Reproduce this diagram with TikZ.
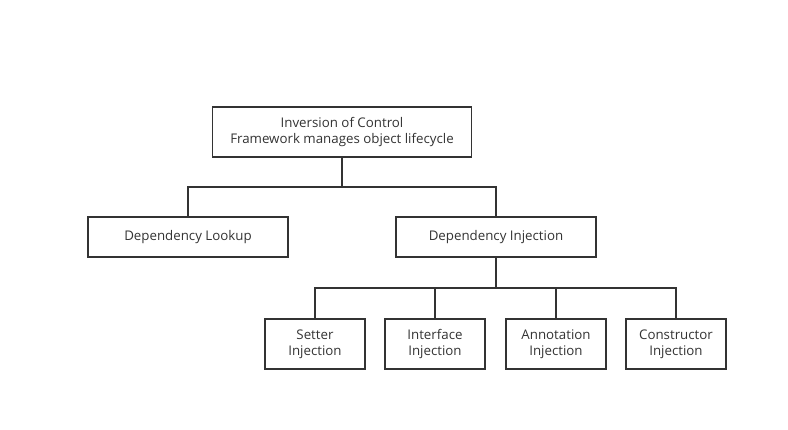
\documentclass[tikz,border=0pt]{standalone}
\usepackage{fontspec}
\setmainfont{Open Sans}
\usetikzlibrary{positioning}
\definecolor{inkgray}{HTML}{333333}
\tikzset{every path/.style={inkgray,line width=1.8pt},
         box/.style={draw=inkgray,line width=1.8pt,rectangle,align=center,inner sep=0pt,
                     font=\fontsize{13.3}{16}\selectfont,text=inkgray}}

\begin{document}
\begin{tikzpicture}[x=1pt,y=-1pt]
   \useasboundingbox[fill=white,draw=none] (0,0) rectangle (788,430);
   \node[box,minimum width=259pt,minimum height=50pt] (ioc)    at (342,132) {Inversion of Control\\Framework manages object lifecycle};
   \node[box,minimum width=200pt,minimum height=40pt] (lookup) at (188,237) {Dependency Lookup};
   \node[box,minimum width=200pt,minimum height=40pt] (di)     at (496,237) {Dependency Injection};
   \node[box,minimum width=100pt,minimum height=50pt] (setter) at (315,344) {Setter\\Injection};
   \node[box,minimum width=100pt,minimum height=50pt] (iface)  at (435,344) {Interface\\Injection};
   \node[box,minimum width=100pt,minimum height=50pt] (annot)  at (556,344) {Annotation\\Injection};
   \node[box,minimum width=100pt,minimum height=50pt] (ctor)   at (676,344) {Constructor\\Injection};
   \coordinate (bus1) at (342,187);
   \coordinate (bus2) at (496,288);
   \draw (ioc) -- (bus1);
   \draw (lookup.north) |- (bus1) -| (di.north);
   \draw (di) -- (bus2);
   \draw (setter.north) |- (bus2) -| (ctor.north);
   \draw (iface.north) -- (iface.north |- bus2);
   \draw (annot.north) -- (annot.north |- bus2);
  \end{tikzpicture}
\end{document}
